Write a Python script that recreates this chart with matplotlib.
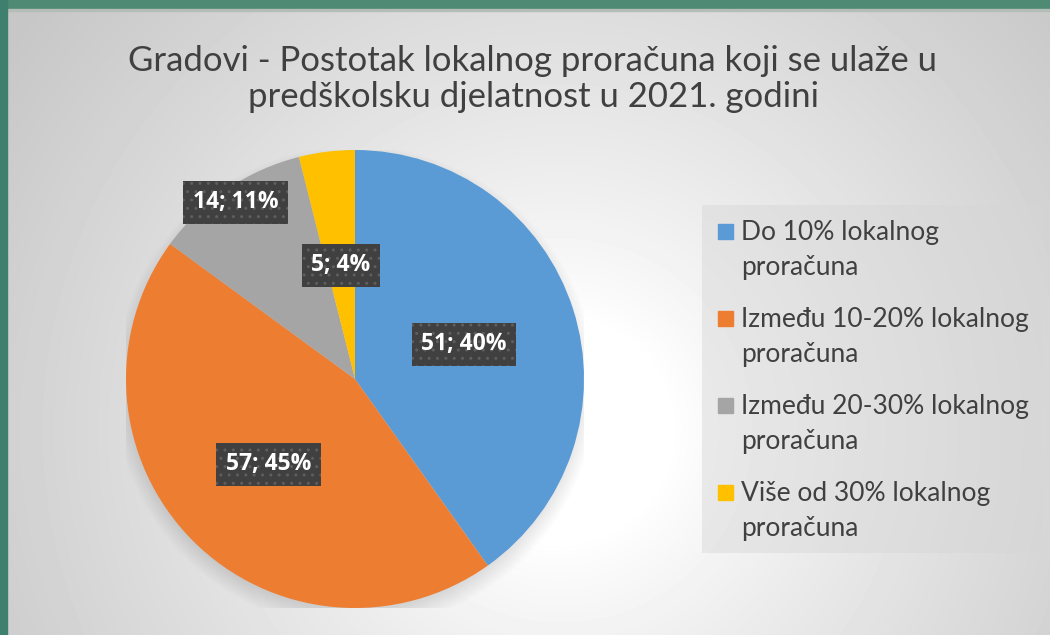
import numpy as np
import matplotlib
matplotlib.use("Agg")
import matplotlib.pyplot as plt
from matplotlib.patches import Rectangle, Circle

# data
categories = [
    "Do 10% lokalnog\nproračuna",
    "Između 10-20% lokalnog\nproračuna",
    "Između 20-30% lokalnog\nproračuna",
    "Više od 30% lokalnog\nproračuna",
]
counts = [51, 57, 14, 5]
title = "Gradovi - Postotak lokalnog proračuna koji se ulaže u\npredškolsku djelatnost u 2021. godini"

COLORS = ["#5b9bd5", "#ed7d31", "#a5a5a5", "#ffc000"]
LABEL_RADIUS = [0.50, 0.53, 0.93, 0.50]
TEXT_COLOR = "#404040"

W, H = 1050, 635
fig = plt.figure(figsize=(W / 100, H / 100), dpi=100)

# background: radial grey gradient + green frame
bg = fig.add_axes([0, 0, 1, 1])
yy, xx = np.mgrid[0:H, 0:W]
d = np.hypot(xx - 560, yy - 430)
shade = 1.0 - 0.22 * np.clip((d - 110) / 560, 0, 1) ** 0.85
bg.imshow(shade, cmap="gray", vmin=0, vmax=1, extent=[0, W, H, 0], aspect="auto")
bg.add_patch(Rectangle((0, 0), W, 9, color="#4e8a74", zorder=3))
bg.add_patch(Rectangle((0, 9), W, 2, color="#b4bdb8", zorder=3))
bg.add_patch(Rectangle((0, 0), 7, H, color="#3f7f6d", zorder=4))
bg.set_xlim(0, W)
bg.set_ylim(H, 0)
bg.axis("off")

# title
fig.text(533 / W, 1 - 79 / H, title, ha="center", va="center", fontsize=25,
         family="Lato", color=TEXT_COLOR, linespacing=1.18)

# pie
cx, cy, r = 355, 379, 229
ax = fig.add_axes([(cx - r) / W, (H - cy - r) / H, 2 * r / W, 2 * r / H])
ax.set_facecolor("none")
for k in range(14):
    ax.add_patch(Circle((0.0, -0.035), 0.975 + 0.006 * k, color="black",
                        alpha=0.009, lw=0, zorder=0))
wedges, _ = ax.pie(counts, colors=COLORS, startangle=90, counterclock=False,
                   wedgeprops=dict(linewidth=0))
ax.set_xlim(-1, 1)
ax.set_ylim(-1, 1)
ax.set_aspect("equal")
ax.axis("off")

total = sum(counts)
labels = []
for w, v, rad in zip(wedges, counts, LABEL_RADIUS):
    ang = np.deg2rad((w.theta1 + w.theta2) / 2)
    x, y = rad * np.cos(ang), rad * np.sin(ang)
    lbl = f"{v}; {round(v / total * 100)}%"
    t = ax.text(x, y, lbl, ha="center", va="center", fontsize=16.5, fontweight="bold",
                family="Open Sans", color="white", zorder=6,
                bbox=dict(boxstyle="square,pad=0.42", fc="#404040", ec="#5e5e5e",
                          lw=0, hatch=".."))
    labels.append(t)

# drop shadows under the label boxes
fig.canvas.draw()
for t in labels:
    bb = t.get_bbox_patch().get_window_extent()
    bg.add_patch(Rectangle((bb.x0 + 3, H - bb.y1 + 4), bb.width, bb.height,
                           fc="black", ec="none", alpha=0.16, zorder=3))

# legend box drawn by hand so the marker sits on the first line
lx0, ly0, lx1, ly1 = 702, 205, 1043, 553
bg.add_patch(Rectangle((lx0, ly0), lx1 - lx0, ly1 - ly0, fc="#d6d6d6", ec="none",
                       alpha=0.45, zorder=2))
for i, (lab, col) in enumerate(zip(categories, COLORS)):
    top = 232 + i * 87
    bg.add_patch(Rectangle((718, top - 8), 15, 15, color=col, zorder=5))
    bg.text(741, top - 12, lab, ha="left", va="top", fontsize=19, family="Lato",
            color=TEXT_COLOR, linespacing=1.5, zorder=5)

fig.savefig("out.png", dpi=100)
